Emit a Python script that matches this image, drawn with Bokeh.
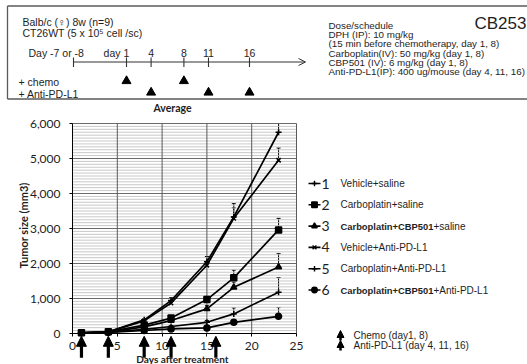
import numpy as np
from bokeh.plotting import figure
from bokeh.models import (Range1d, FixedTicker, NumeralTickFormatter, Label, Arrow,
                          NormalHead, OpenHead, ColumnDataSource, Whisker, TeeHead)
from bokeh.layouts import column, row
from bokeh.embed import file_html
from bokeh.resources import INLINE
from bokeh.core.properties import value

# ---------------- data ----------------
days = [1, 4, 8, 11, 15, 18, 23]
vehicle_saline = [20, 50, 390, 940, 2050, 3330, 5750]
carbo_saline = [20, 50, 240, 440, 970, 1590, 2960]
carbo_cbp_saline = [20, 40, 190, 370, 705, 1320, 1900]
vehicle_pdl1 = [20, 45, 360, 870, 1950, 3290, 4950]
carbo_pdl1 = [20, 35, 120, 200, 320, 560, 1180]
carbo_cbp_pdl1 = [20, 30, 85, 130, 160, 320, 490]

err_vehicle_saline = [0, 0, 30, 80, 150, 380, 250]
err_carbo_saline = [0, 0, 30, 60, 100, 220, 330]
err_carbo_cbp_saline = [0, 0, 20, 50, 100, 150, 380]
err_vehicle_pdl1 = [0, 0, 20, 60, 120, 300, 350]
err_carbo_pdl1 = [0, 0, 15, 30, 50, 170, 420]
err_carbo_cbp_pdl1 = [0, 0, 10, 20, 30, 60, 250]

series_numbers = ["1", "2", "3", "4", "5", "6"]
legend_bold = ["", "", "Carboplatin+CBP501", "", "", "Carboplatin+CBP501"]
legend_rest = ["Vehicle+saline", "Carboplatin+saline", "+saline",
               "Vehicle+Anti-PD-L1", "Carboplatin+Anti-PD-L1", "+Anti-PD-L1"]

x_ticks = [0, 5, 10, 15, 20, 25]
y_ticks = [0, 1000, 2000, 3000, 4000, 5000, 6000]

chemo_days = [1, 8]
pdl1_days = [4, 11, 16]
schedule_days = [1, 4, 8, 11, 16]
schedule_labels = ["1", "4", "8", "11", "16"]

left_info = ["Balb/c  (\u2640) 8w (n=9)", "CT26WT (5 x 10\u2075 cell /sc)"]
dose_info = ["Dose/schedule", "DPH (IP): 10 mg/kg",
             "(15 min before  chemotherapy, day 1, 8)",
             "Carboplatin(IV): 50 mg/kg (day 1, 8)",
             "CBP501 (IV): 6 mg/kg (day 1, 8)",
             "Anti-PD-L1(IP): 400 ug/mouse (day 4, 11, 16)"]

ARIAL = "Liberation Sans"
CAL = "Lato"
INK = "#1e1e1e"

# ---------------- top schedule box ----------------
DAY1_PX, PX_PER_DAY = 126, 8.2


def px_day(px):
    # layout helper: page pixel -> schedule-day coordinate
    return 1 + (px - DAY1_PX) / PX_PER_DAY


top = figure(width=527, height=100, x_range=Range1d(px_day(0), px_day(527)),
             y_range=Range1d(100, 0), output_backend="svg", toolbar_location=None,
             min_border=0, x_axis_location=None, y_axis_location=None)
top.grid.visible = False
top.outline_line_color = None

# box (left, top, bottom sides; the right side is cut off by the page edge)
box_l, box_t, box_b = px_day(7), 5.5, 98.5
top.segment(x0=[box_l, box_l, box_l], y0=[box_t, box_b, box_t],
            x1=[px_day(540), px_day(540), box_l], y1=[box_t, box_b, box_b],
            line_color="#5a5a5a", line_width=1.3)

implant_pos = px_day(73)
timeline_end = px_day(305)
top.add_layout(Arrow(end=OpenHead(size=7, line_width=1, line_color="#333333"),
                     x_start=implant_pos, y_start=61.5, x_end=timeline_end, y_end=61.5,
                     line_color="#333333", line_width=1.1))
tick_x = [implant_pos] + schedule_days
top.segment(x0=tick_x, y0=57, x1=tick_x, y1=66.5, line_color="#333333", line_width=1.1)
top.text(x=schedule_days, y=[52] * len(schedule_days), text=schedule_labels,
         text_align="center", text_baseline="middle", text_font=value(ARIAL),
         text_font_size="10.5px", text_color=INK)
top.scatter(chemo_days, [80.5] * len(chemo_days), marker="triangle", size=9, color="black")
top.scatter(pdl1_days, [92] * len(pdl1_days), marker="triangle", size=9, color="black")


def tlabel(fig, x, y, text, size="10.5px", font=ARIAL, align="left"):
    fig.add_layout(Label(x=x, y=y, x_units="screen", y_units="data", text=text,
                         text_font=font, text_font_size=size, text_color=INK,
                         text_align=align, text_baseline="middle"))


for i, t in enumerate(left_info):
    tlabel(top, 22, 21.7 + 10.6 * i, t)
tlabel(top, 28, 52, "Day -7 or -8")
tlabel(top, 120, 52, "day", align="right")
tlabel(top, 18, 81.5, "+ chemo")
tlabel(top, 18, 93, "+ Anti-PD-L1")
for i, t in enumerate(dose_info):
    tlabel(top, 328, 25 + 9.2 * i, t, size="9.8px")
tlabel(top, 474, 22.5, "CB253", size="17px")

# ---------------- main chart (frame = whole figure, axes fixed at 0) ----------------
PX_DAY = 224 / 25.0
PX_UNIT = 35 / 1000.0
FL, FT = 72, 23
MW, MH = 305, 264
x0 = -FL / PX_DAY
x1 = x0 + MW / PX_DAY
y1 = 6000 + FT / PX_UNIT
y0 = y1 - MH / PX_UNIT
p = figure(width=MW, height=MH, x_range=Range1d(x0, x1), y_range=Range1d(y0, y1),
           output_backend="svg", toolbar_location=None, min_border=0)
p.outline_line_color = None
p.background_fill_color = "white"
p.grid.visible = False

p.yaxis.fixed_location = 0
p.yaxis.ticker = FixedTicker(ticks=y_ticks)
p.yaxis.formatter = NumeralTickFormatter(format="0,0")
p.yaxis.bounds = (y_ticks[0], y_ticks[-1])
p.yaxis.minor_tick_line_color = None
p.yaxis.major_tick_out = 3
p.yaxis.major_tick_in = 0
p.yaxis.major_label_standoff = 9
p.yaxis.axis_line_color = "black"
p.yaxis.major_label_text_font = CAL
p.yaxis.major_label_text_font_size = "12px"
p.yaxis.major_label_text_color = INK

p.xaxis.fixed_location = 0
p.xaxis.ticker = FixedTicker(ticks=x_ticks)
p.xaxis.bounds = (x_ticks[0], x_ticks[-1])
p.xaxis.minor_tick_line_color = None
p.xaxis.major_tick_out = 3
p.xaxis.major_tick_in = 0
p.xaxis.axis_line_color = "black"
p.xaxis.major_label_text_font = CAL
p.xaxis.major_label_text_font_size = "12px"
p.xaxis.major_label_text_color = INK

minor = [k * 1000 / 12 for k in range(1, 72)]
p.segment(x0=x_ticks[0], y0=minor, x1=x_ticks[-1], y1=minor, line_color="#c2c2c2", line_width=0.9)
p.segment(x0=x_ticks[0], y0=y_ticks[1:], x1=x_ticks[-1], y1=y_ticks[1:], line_color="#6a6a6a", line_width=1)
p.segment(x0=x_ticks[1:], y0=y_ticks[0], x1=x_ticks[1:], y1=y_ticks[-1], line_color="#5a5a5a", line_width=1)

series = [
    (vehicle_saline, err_vehicle_saline, "cross"),
    (carbo_saline, err_carbo_saline, "square"),
    (carbo_cbp_saline, err_carbo_cbp_saline, "triangle"),
    (vehicle_pdl1, err_vehicle_pdl1, "x"),
    (carbo_pdl1, err_carbo_pdl1, "cross"),
    (carbo_cbp_pdl1, err_carbo_cbp_pdl1, "circle"),
]
markers = [s[2] for s in series]
for vals, err, mk in series:
    src = ColumnDataSource(dict(x=days, y=vals, up=list(np.array(vals) + np.array(err))))
    p.add_layout(Whisker(source=src, base="x", lower="y", upper="up",
                         upper_head=TeeHead(size=4, line_color="black", line_width=1),
                         lower_head=None, line_color="black", line_width=1))
    p.line("x", "y", source=src, line_color="black", line_width=1.7)
    p.scatter("x", "y", source=src, marker=mk, size=6, line_color="black",
              fill_color="black", line_width=1.5)

treat_days = sorted(chemo_days + pdl1_days)
arr_src = ColumnDataSource(dict(x=treat_days, y0=[-690] * len(treat_days), y1=[-80] * len(treat_days)))
p.add_layout(Arrow(end=NormalHead(size=10, fill_color="black", line_color="black"),
                   x_start="x", y_start="y0", x_end="x", y_end="y1", source=arr_src,
                   line_width=3.2, line_color="black"))


def slabel(fig, x, y, text, **kw):
    # x, y: page px (top-left origin) -> frame screen coords (frame = figure here)
    fig.add_layout(Label(x=x, y=364 - y, x_units="screen", y_units="screen", text=text,
                         text_color=INK, text_align="center", text_baseline="middle", **kw))


slabel(p, 172, 107, "Average", text_font=CAL, text_font_style="bold", text_font_size="10.5px")
slabel(p, 23, 225, "Tumor size (mm3)", angle=np.pi / 2, text_font=CAL,
       text_font_style="bold", text_font_size="11px")
slabel(p, 182, 358.5, "Days after treatment", text_font=CAL, text_font_style="bold",
       text_font_size="10px")

# ---------------- legend panel ----------------
lg = figure(width=222, height=264, x_range=Range1d(0, 222), y_range=Range1d(0, 264),
            output_backend="svg", toolbar_location=None, min_border=0,
            x_axis_location=None, y_axis_location=None)
lg.grid.visible = False
lg.outline_line_color = None

n = len(series_numbers)
fy = [181 - 21.3 * i for i in range(n)]
lg.segment(x0=[3] * n, y0=fy, x1=[15] * n, y1=fy, line_color="black", line_width=1.6)
lg.scatter(x=[9] * n, y=fy, marker=markers, size=5.5, line_color="black",
           fill_color="black", line_width=1.4)
lg.text(x=[16] * n, y=fy, text=series_numbers, text_font=value(CAL), text_font_size="14px",
        text_baseline="middle", text_color=INK)
bold_w = 93
rest_x = [35 + (bold_w if b else 0) for b in legend_bold]
lg.text(x=[35] * n, y=fy, text=legend_bold, text_font=value(ARIAL), text_font_size="9.4px",
        text_font_style="bold", text_baseline="middle", text_color=INK)
lg.text(x=rest_x, y=fy, text=legend_rest, text_font=value(ARIAL), text_font_size="10px",
        text_baseline="middle", text_color=INK)

note_y = [29, 19]
note_src = ColumnDataSource(dict(x=[35, 35], y0=[v - 5 for v in note_y], y1=[v + 5 for v in note_y]))
lg.add_layout(Arrow(end=NormalHead(size=7, fill_color="black", line_color="black"),
                    x_start="x", y_start="y0", x_end="x", y_end="y1", source=note_src,
                    line_width=2.5, line_color="black"))
lg.text(x=[48, 48], y=note_y, text=["Chemo (day1, 8)", "Anti-PD-L1 (day 4, 11, 16)"],
        text_font=value(ARIAL), text_font_size="10px", text_baseline="middle", text_color=INK)

layout = column(top, row(p, lg))
open("out.html", "w").write(file_html(layout, INLINE))
